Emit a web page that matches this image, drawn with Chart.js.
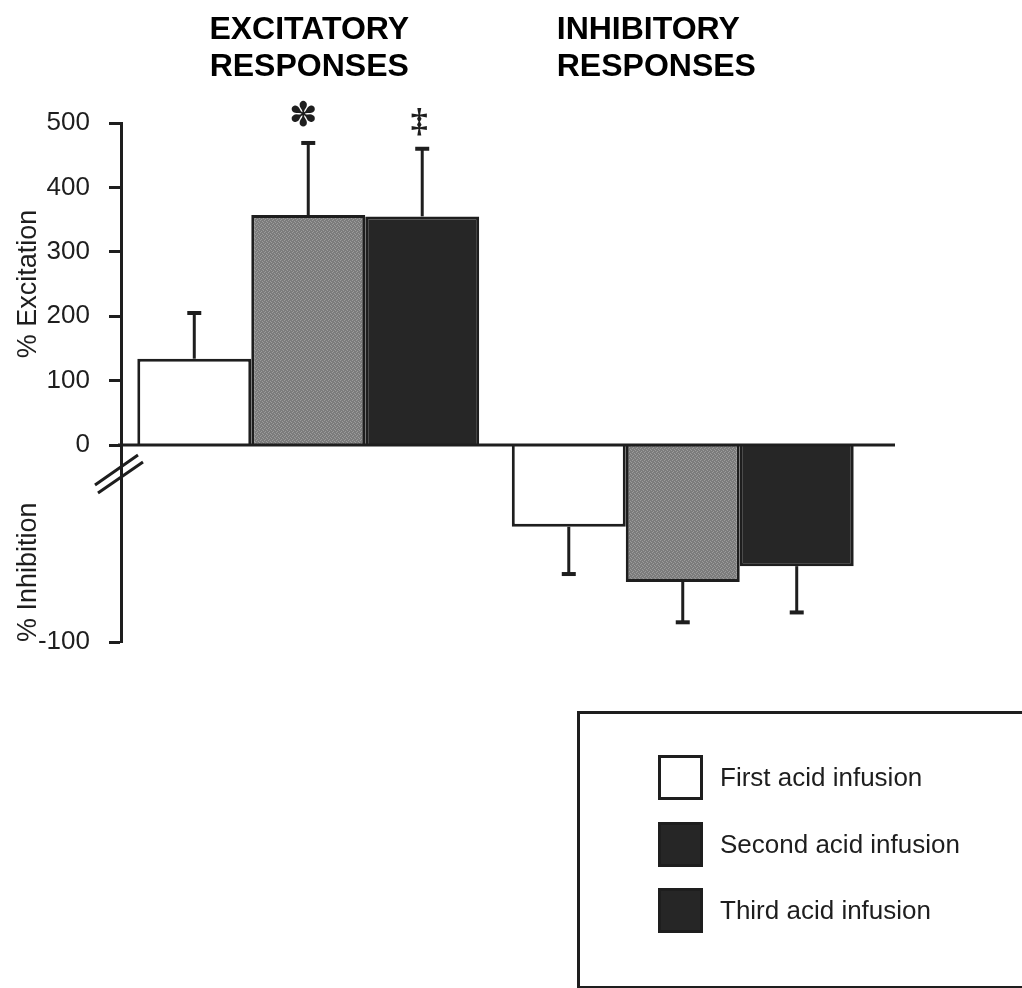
<!DOCTYPE html>
<html>
<head>
<meta charset="utf-8">
<script src="https://cdn.jsdelivr.net/npm/chart.js@4.4.1/dist/chart.umd.min.js"></script>
<style>
  body { margin: 0; background: #fff; overflow: hidden; }
  #wrap { position: relative; width: 1022px; height: 988px; overflow: hidden; }
  #legend {
    position: absolute; left: 577px; top: 711px; width: 470px; height: 272px;
    border: 3px solid #1e1e1e; border-bottom-width: 2px;
    font-family: "Liberation Sans", Arial, sans-serif; font-size: 26px; color: #1e1e1e;
  }
  .item { position: absolute; left: 78px; display: flex; align-items: center; }
  .swatch { width: 45px; height: 45px; box-sizing: border-box; border: 3px solid #1e1e1e; margin-right: 17px; }
</style>
</head>
<body>
<div id="wrap">
  <canvas id="chart" width="1022" height="988"></canvas>
  <div id="legend"></div>
</div>
<script>
// data
const groups = [['EXCITATORY', 'RESPONSES'], ['INHIBITORY', 'RESPONSES']];
const seriesLabels = ['First acid infusion', 'Second acid infusion', 'Third acid infusion'];
const excitation = [134, 357, 355];
const excitationErr = [71, 112, 105];
const excitationMarks = ['', '\u273D', '\u2021'];
const inhibition = [-41.5, -69.5, -61.5];
const inhibitionErr = [24, 20.5, 23.5];
const upperTicks = [0, 100, 200, 300, 400, 500];
const lowerTicks = [-100];

const ink = '#1e1e1e';
Chart.defaults.font.family = '"Liberation Sans", Arial, sans-serif';
Chart.defaults.color = ink;

// speckled grey like the printed bar
function grayPattern() {
    const c = document.createElement('canvas');
    c.width = 4; c.height = 4;
    const g = c.getContext('2d');
    g.fillStyle = '#7c7c7c';
    g.fillRect(0, 0, 4, 4);
    g.fillStyle = '#9c9c9c';
    g.fillRect(0, 0, 1, 1); g.fillRect(2, 1, 1, 1); g.fillRect(1, 3, 1, 1); g.fillRect(3, 2, 1, 1);
    return g.createPattern(c, 'repeat');
}
const fills = ['#ffffff', grayPattern(), '#262626'];
const legendFills = ['#ffffff', '#262626', '#262626'];

const datasets = [];
seriesLabels.forEach((label, i) => {
    datasets.push({
        label, data: [excitation[i], null], err: [excitationErr[i], null], marks: [excitationMarks[i], ''],
        yAxisID: 'yTop', backgroundColor: fills[i], borderColor: ink, borderWidth: 3
    });
});
seriesLabels.forEach((label, i) => {
    datasets.push({
        label, data: [null, inhibition[i]], err: [null, inhibitionErr[i]], marks: ['', ''],
        yAxisID: 'yBottom', backgroundColor: fills[i], borderColor: ink, borderWidth: 3
    });
});

// error bars plus the significance marks above them
const errorBars = {
    id: 'errorBars',
    afterDatasetsDraw(chart) {
        const ctx = chart.ctx;
        ctx.save();
        ctx.strokeStyle = ink;
        ctx.fillStyle = ink;
        chart.data.datasets.forEach((ds, i) => {
            const meta = chart.getDatasetMeta(i);
            const scale = chart.scales[ds.yAxisID];
            ds.data.forEach((v, j) => {
                if (v === null) return;
                const bar = meta.data[j];
                const end = scale.getPixelForValue(v + Math.sign(v) * ds.err[j]);
                ctx.lineWidth = 3;
                ctx.beginPath();
                ctx.moveTo(bar.x, bar.y);
                ctx.lineTo(bar.x, end);
                ctx.stroke();
                ctx.lineWidth = 4;
                ctx.beginPath();
                ctx.moveTo(bar.x - 7, end);
                ctx.lineTo(bar.x + 7, end);
                ctx.stroke();
                const mark = ds.marks[j];
                if (mark) {
                    ctx.textAlign = 'center';
                    ctx.textBaseline = 'alphabetic';
                    ctx.font = mark === '\u2021' ? 'bold 34px "Liberation Serif", serif' : '34px "DejaVu Sans", sans-serif';
                    ctx.fillText(mark, bar.x - (mark === '\u2021' ? 3 : 5), end - 17);
                }
            });
        });
        ctx.restore();
    }
};

// zero line, axis break and group headings
const decor = {
    id: 'decor',
    afterDraw(chart) {
        const ctx = chart.ctx;
        const area = chart.chartArea;
        const zero = chart.scales.yTop.getPixelForValue(0);
        ctx.save();
        ctx.strokeStyle = ink;
        ctx.lineWidth = 3;
        ctx.beginPath();
        ctx.moveTo(area.left - 3, zero);
        ctx.lineTo(area.right + 25, zero);
        ctx.stroke();
        // break marks //
        ctx.beginPath();
        ctx.moveTo(area.left - 26, zero + 40);
        ctx.lineTo(area.left + 17, zero + 10);
        ctx.moveTo(area.left - 23, zero + 48);
        ctx.lineTo(area.left + 22, zero + 17);
        ctx.stroke();

        ctx.font = 'bold 32px "Liberation Sans", Arial, sans-serif';
        ctx.textBaseline = 'alphabetic';
        groups.forEach((lines, i) => {
            const cx = chart.scales.x.getPixelForValue(i);
            lines.forEach((t, k) => {
                if (i === 0) {
                    ctx.textAlign = 'center';
                    ctx.fillText(t, cx + 1, 39 + k * 37);
                } else {
                    ctx.textAlign = 'left';
                    ctx.fillText(t, cx - 126, 39 + k * 37);
                }
            });
        });
        ctx.restore();
    }
};

const tickFont = { size: 26 };
const titleFont = { size: 27 };

new Chart(document.getElementById('chart'), {
    type: 'bar',
    data: { labels: groups.map(g => g.join(' ')), datasets },
    options: {
        responsive: false,
        animation: false,
        events: [],
        layout: { padding: { left: 0, top: 123, right: 152, bottom: 346 } },
        datasets: { bar: { skipNull: true, barPercentage: 1, categoryPercentage: 0.913 } },
        plugins: { legend: { display: false }, tooltip: { enabled: false } },
        scales: {
            x: { display: false },
            // left boxes are laid out in reverse, so the lower half comes first
            yBottom: {
                position: 'left', stack: 'y', stackWeight: 197,
                min: -100, max: 0,
                afterBuildTicks: s => { s.ticks = lowerTicks.map(v => ({ value: v })); },
                afterFit: s => { s.width = 121; },
                ticks: { font: tickFont, color: ink, padding: 19, autoSkip: false },
                grid: { drawOnChartArea: false, tickLength: 12, tickWidth: 3, color: ink },
                border: { color: ink, width: 3 },
                title: { display: true, text: '% Inhibition', align: 'start', font: titleFont, color: ink, padding: { top: 12, bottom: 0 } }
            },
            yTop: {
                position: 'left', stack: 'y', stackWeight: 322,
                min: 0, max: 500,
                afterBuildTicks: s => { s.ticks = upperTicks.map(v => ({ value: v })); },
                afterFit: s => { s.width = 121; },
                ticks: { font: tickFont, color: ink, padding: 19, autoSkip: false },
                grid: { drawOnChartArea: false, tickLength: 12, tickWidth: 3, color: ink },
                border: { color: ink, width: 3 },
                title: { display: true, text: '% Excitation', font: titleFont, color: ink, padding: { top: 12, bottom: 0 } }
            }
        }
    },
    plugins: [errorBars, decor]
});

// legend box, bottom right
const legend = document.getElementById('legend');
seriesLabels.forEach((label, i) => {
    const item = document.createElement('div');
    item.className = 'item';
    item.style.top = (41 + i * 66.5) + 'px';
    const sw = document.createElement('div');
    sw.className = 'swatch';
    sw.style.background = legendFills[i];
    const txt = document.createElement('span');
    txt.textContent = label;
    item.appendChild(sw);
    item.appendChild(txt);
    legend.appendChild(item);
});
</script>
</body>
</html>
